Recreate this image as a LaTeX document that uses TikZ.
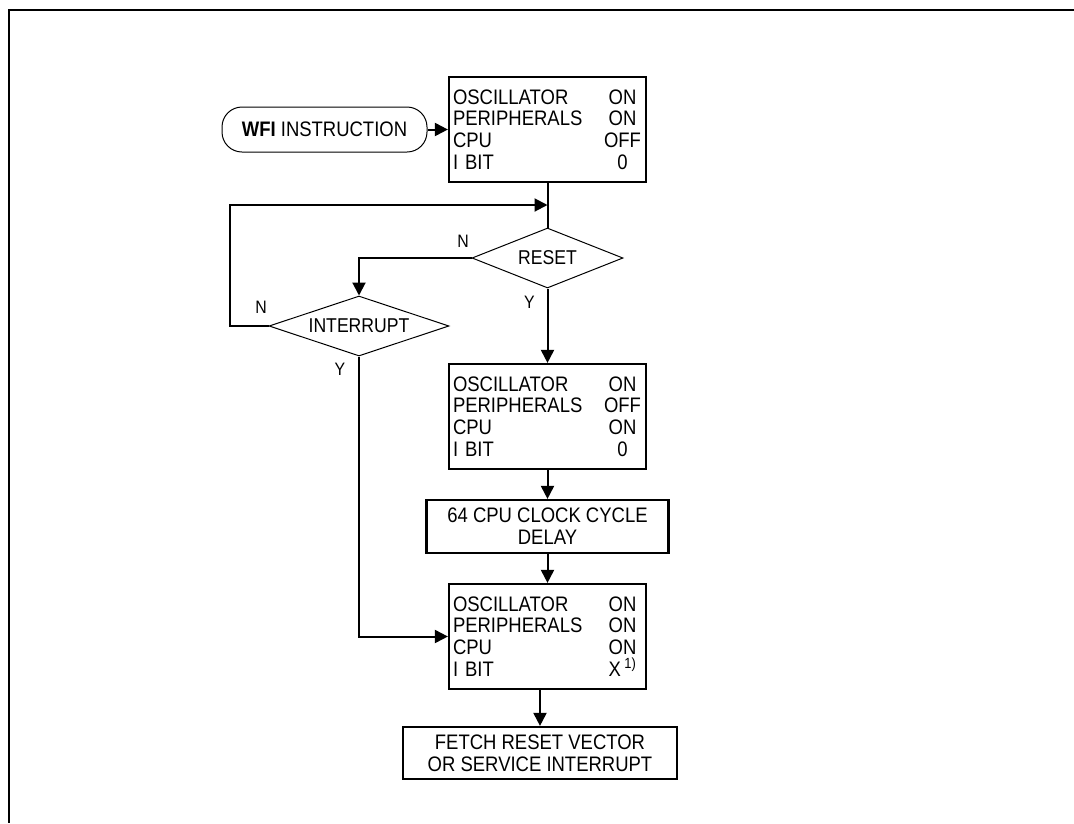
\documentclass[tikz,border=0pt]{standalone}
\usepackage{fontspec}
\setmainfont{Liberation Sans}[FakeStretch=0.88]
\usetikzlibrary{shapes.geometric,arrows.meta}
\newcommand{\srow}[2]{\makebox[150pt][l]{#1}\makebox[39pt]{#2}}
\begin{document}
\begin{tikzpicture}[x=1pt,y=-1pt,
  arr/.style={line width=2pt,-{Triangle[length=13pt,width=13pt]}},
  statebox/.style={draw,line width=2.2pt,minimum width=197pt,minimum height=105pt,
    inner xsep=4pt,inner ysep=0pt,text width=189pt,align=left,
    font=\fontsize{21}{21.7}\selectfont},
  procbox/.style={draw,line width=2.2pt,minimum height=53pt,inner sep=0pt,align=center,
    font=\fontsize{21}{21.7}\selectfont},
  termbox/.style={draw,line width=1pt,rounded corners=20pt,minimum width=205pt,
    minimum height=45pt,inner sep=0pt,font=\fontsize{21}{21.7}\selectfont},
  decision/.style={diamond,draw,line width=1pt,aspect=2.5,inner sep=0pt,
    font=\fontsize{20}{21}\selectfont},
  lbl/.style={inner sep=0pt,font=\fontsize{18}{20}\selectfont}]
\useasboundingbox (0,0) rectangle (1074,823);
\draw [line width=2.2pt] (1074,10) -- (9,10) -- (9,823);
\node [termbox] (wfi) at (324.5,129.5) {\textbf{WFI} INSTRUCTION};
\node [statebox] (halt) at (547.5,129.5) {\srow{OSCILLATOR}{ON}\\ \srow{PERIPHERALS}{ON}\\
  \srow{CPU}{OFF}\\ \srow{I BIT}{0}};
\node [decision,minimum width=151pt,minimum height=60pt] (reset) at (547.5,258) {RESET};
\node [decision,minimum width=180pt,minimum height=60pt] (intr) at (359,326) {INTERRUPT};
\node [statebox] (wake) at (547.5,416.5) {\srow{OSCILLATOR}{ON}\\ \srow{PERIPHERALS}{OFF}\\
  \srow{CPU}{ON}\\ \srow{I BIT}{0}};
\node [procbox,minimum width=242pt] (delay) at (547.5,526.5) {64 CPU CLOCK CYCLE\\ DELAY};
\node [statebox] (run) at (547.5,636.5) {\srow{OSCILLATOR}{ON}\\ \srow{PERIPHERALS}{ON}\\
  \srow{CPU}{ON}\\ \srow{I BIT}{X\,\textsuperscript{1)}}};
\node [procbox,minimum width=274pt,minimum height=52pt] (fetch) at (540,753) {FETCH RESET VECTOR\\ OR SERVICE INTERRUPT};
\node [lbl] (resetn) at (463,241) {N};
\node [lbl] (resety) at (529.5,302) {Y};
\node [lbl] (intrn) at (261,307.5) {N};
\node [lbl] (intry) at (340,369.5) {Y};
\coordinate (join) at (547.5,205);
\coordinate (loop) at (230,205);
\draw [arr] (wfi) -- (halt);
\draw [line width=2pt] (halt.south) -- (reset.north);
\draw [arr] (reset.west) -| (intr.north);
\draw [arr] (intr.west) -| (loop) -- (join);
\draw [arr] (reset.south) -- (wake.north);
\draw [arr] (wake) -- (delay);
\draw [arr] (delay) -- (run);
\draw [arr] (intr.south) |- (run.west);
\draw [arr] (run.south -| fetch.north) -- (fetch.north);
\end{tikzpicture}
\end{document}
